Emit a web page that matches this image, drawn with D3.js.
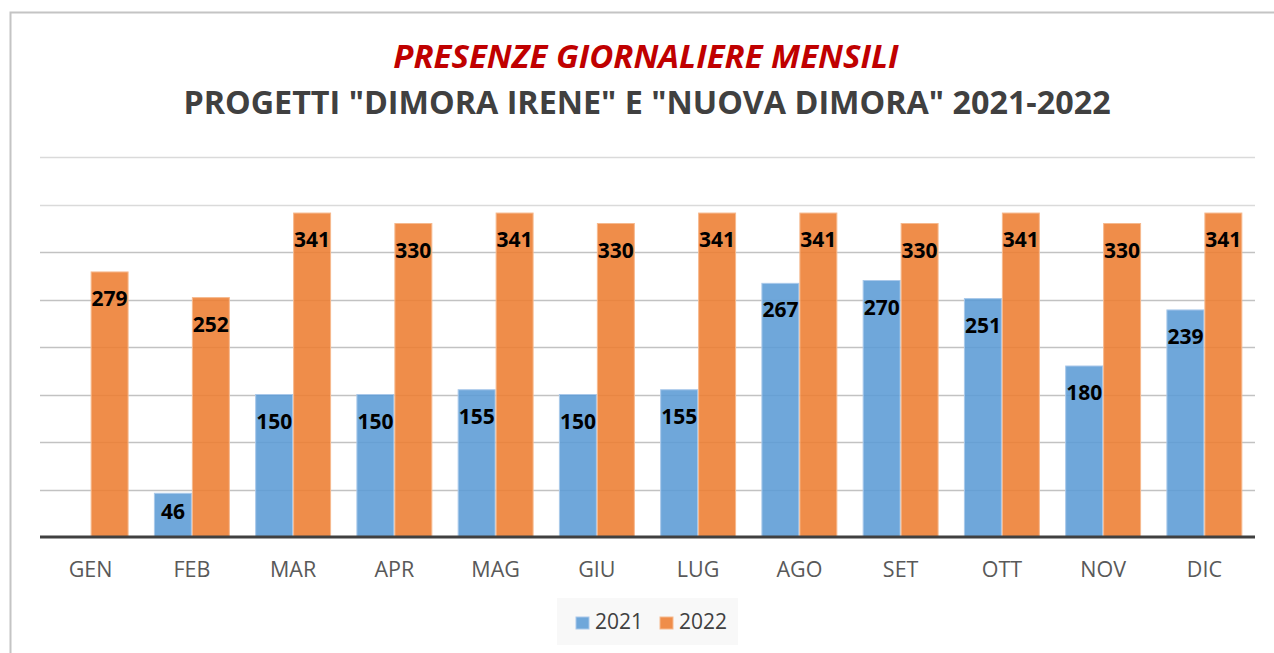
<!DOCTYPE html>
<html>
<head>
<meta charset="utf-8">
<script src="https://cdn.jsdelivr.net/npm/d3@7"></script>
<style>
  html, body { margin: 0; padding: 0; background: #fff; }
  svg { display: block; }
</style>
</head>
<body>
<div id="chart"></div>
<script>
var width = 1274,
    height = 653;

// dati
var months = ["GEN", "FEB", "MAR", "APR", "MAG", "GIU", "LUG", "AGO", "SET", "OTT", "NOV", "DIC"];
var seriesNames = ["2021", "2022"];
var values2021 = [null, 46, 150, 150, 155, 150, 155, 267, 270, 251, 180, 239];
var values2022 = [279, 252, 341, 330, 341, 330, 341, 341, 330, 341, 330, 341];
var yTicks = [0, 50, 100, 150, 200, 250, 300, 350, 400];

var colors = { "2021": "#5b9bd5", "2022": "#ed7d31" };
var strokes = { "2021": "#a9c8ea", "2022": "#f6b98e" };

var margin = { left: 40, right: 19, top: 157, bottom: 116 };
var plotW = width - margin.left - margin.right;
var baseY = height - margin.bottom;

var svg = d3.select("#chart").append("svg")
    .attr("width", width)
    .attr("height", height);

// bordo del grafico
svg.append("rect")
    .attr("x", 10.5).attr("y", 12.5)
    .attr("width", 1300).attr("height", 700)
    .attr("fill", "#fff")
    .attr("stroke", "#c4c4c4")
    .attr("stroke-width", 2);

// titoli
svg.append("text")
    .attr("x", 646).attr("y", 68)
    .attr("text-anchor", "middle")
    .style("font-family", "'Open Sans', sans-serif")
    .style("font-weight", "bold")
    .style("font-style", "italic")
    .style("font-size", "33px")
    .attr("fill", "#c00000")
    .text("PRESENZE GIORNALIERE MENSILI");

svg.append("text")
    .attr("x", 647).attr("y", 114)
    .attr("text-anchor", "middle")
    .style("font-family", "'Open Sans', sans-serif")
    .style("font-weight", "bold")
    .style("font-size", "32.3px")
    .attr("fill", "#404040")
    .text('PROGETTI "DIMORA IRENE" E "NUOVA DIMORA" 2021-2022');

// scale
var y = d3.scaleLinear().domain([0, 400]).range([baseY, margin.top]);
var x0 = d3.scaleBand().domain(months).range([margin.left, margin.left + plotW]);
var x1 = d3.scaleBand().domain(seriesNames)
    .range([x0.bandwidth() * 0.125, x0.bandwidth() * 0.875]);

// griglia
svg.append("g").selectAll("line")
    .data(yTicks.slice(1))
    .enter().append("line")
    .attr("x1", margin.left).attr("x2", margin.left + plotW)
    .attr("y1", function (d) { return Math.round(y(d)) + 0.5; })
    .attr("y2", function (d) { return Math.round(y(d)) + 0.5; })
    .attr("stroke", function (d) { return d > 300 ? "#dadada" : "#c2c2c2"; })
    .attr("stroke-width", 1.5);

// barre
var rows = months.map(function (m, i) {
    return { month: m, vals: [
        { s: "2021", v: values2021[i] },
        { s: "2022", v: values2022[i] }
    ] };
});

var groups = svg.append("g").selectAll("g")
    .data(rows)
    .enter().append("g")
    .attr("transform", function (d) { return "translate(" + x0(d.month) + ",0)"; });

var cells = groups.selectAll("g")
    .data(function (d) { return d.vals.filter(function (e) { return e.v != null; }); })
    .enter().append("g");

cells.append("rect")
    .attr("x", function (d) { return x1(d.s) + 0.5; })
    .attr("y", function (d) { return y(d.v); })
    .attr("width", x1.bandwidth() - 1)
    .attr("height", function (d) { return baseY - y(d.v); })
    .attr("fill", function (d) { return colors[d.s]; })
    .attr("fill-opacity", 0.88)
    .attr("stroke", function (d) { return strokes[d.s]; })
    .attr("stroke-width", 1);

cells.append("text")
    .attr("x", function (d) { return x1(d.s) + x1.bandwidth() / 2; })
    .attr("y", function (d) {
        var top = y(d.v);
        return Math.min(top + 34, (top + baseY) / 2 + 4);
    })
    .attr("text-anchor", "middle")
    .style("font-family", "'Open Sans', sans-serif")
    .style("font-weight", "bold")
    .style("font-size", "21px")
    .attr("fill", "#000")
    .text(function (d) { return d.v; });

// asse x
svg.append("line")
    .attr("x1", margin.left).attr("x2", margin.left + plotW)
    .attr("y1", baseY).attr("y2", baseY)
    .attr("stroke", "#404040")
    .attr("stroke-width", 3);

var xAxis = svg.append("g")
    .attr("transform", "translate(0," + (baseY + 17) + ")")
    .call(d3.axisBottom(x0).tickSize(0).tickPadding(8));
xAxis.select(".domain").remove();
xAxis.selectAll("text")
    .style("font-family", "'Open Sans', sans-serif")
    .style("font-size", "21.5px")
    .attr("fill", "#595959");

// legenda
var legend = svg.append("g");
legend.append("rect")
    .attr("x", 557).attr("y", 598)
    .attr("width", 181).attr("height", 47)
    .attr("fill", "#f8f8f8");

var legendX = [576, 660];
var items = legend.selectAll("g.item")
    .data(seriesNames)
    .enter().append("g")
    .attr("class", "item")
    .attr("transform", function (d, i) { return "translate(" + legendX[i] + ",617)"; });

items.append("rect")
    .attr("width", 13).attr("height", 12)
    .attr("fill", function (d) { return colors[d]; })
    .attr("fill-opacity", 0.88)
    .attr("stroke", function (d) { return strokes[d]; });

items.append("text")
    .attr("x", 19).attr("y", 12)
    .style("font-family", "'Open Sans', sans-serif")
    .style("font-size", "21px")
    .attr("fill", "#404040")
    .text(function (d) { return d; });
</script>
</body>
</html>
